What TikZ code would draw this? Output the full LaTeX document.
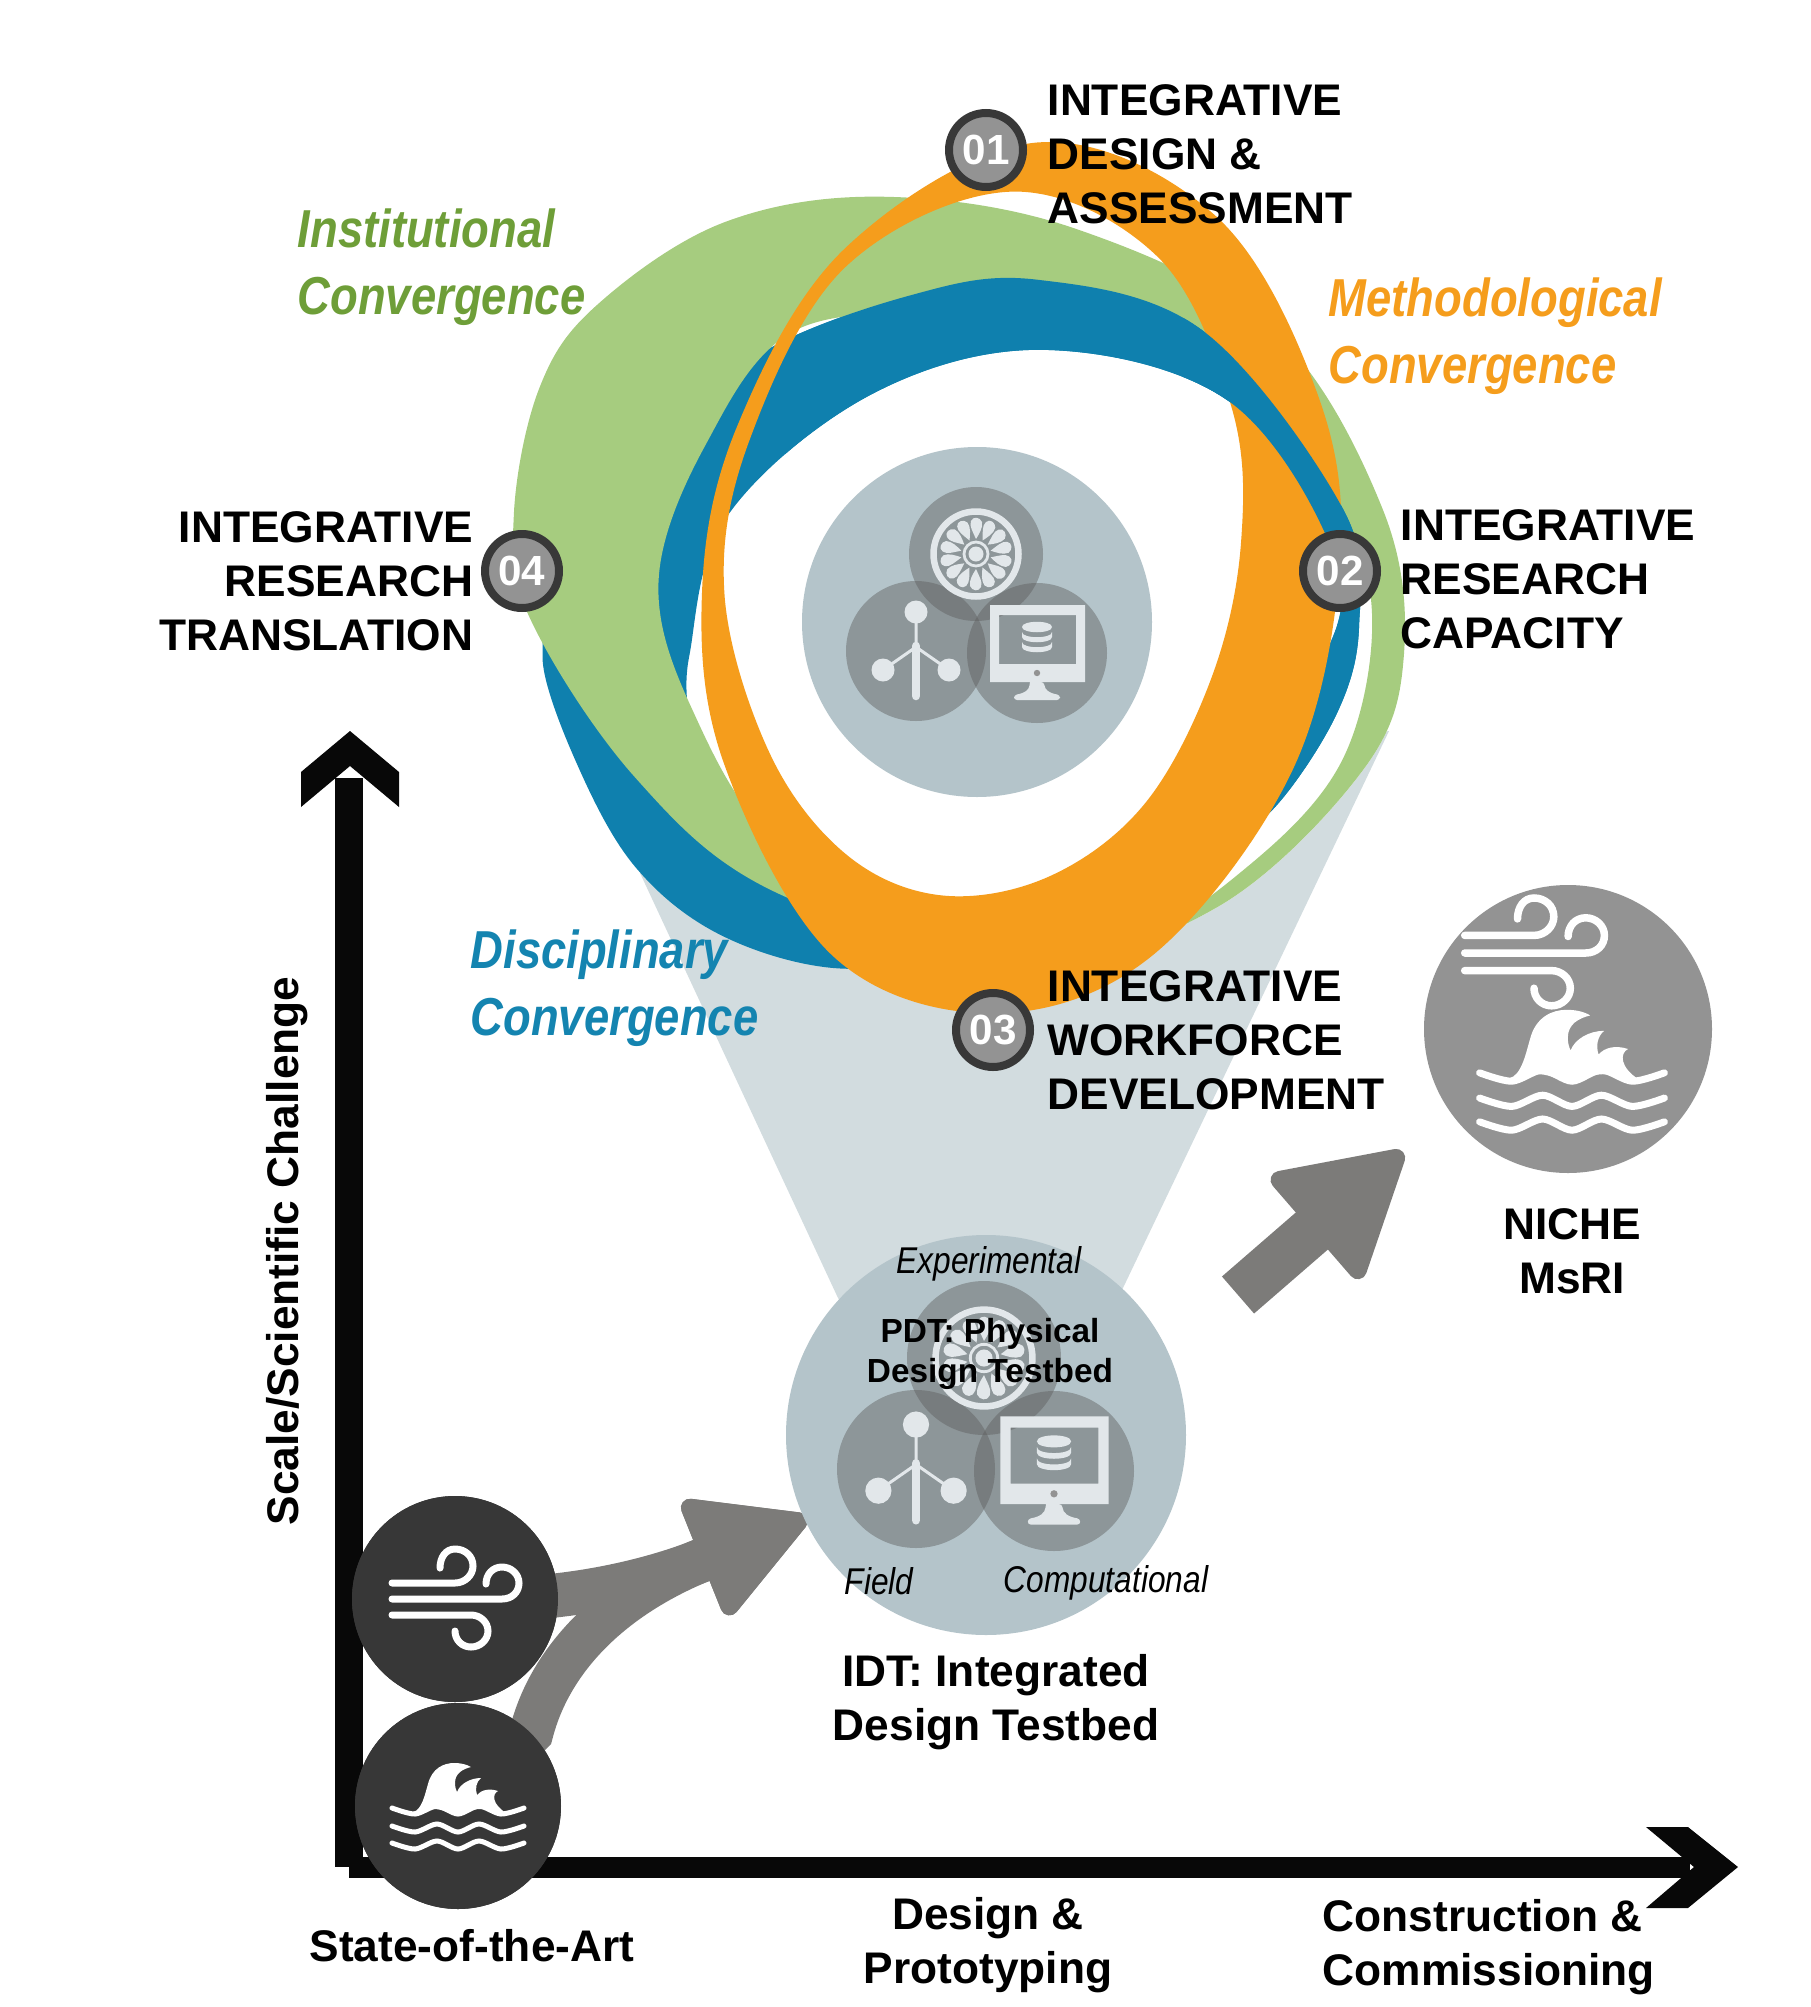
\documentclass[tikz,border=0pt]{standalone}
\usepackage{fontspec}
\usepackage{tikz}
\usetikzlibrary{arrows.meta,positioning}
\setmainfont{Liberation Sans}
\newfontfamily\slimfont[FakeStretch=0.85]{Liberation Sans}

\definecolor{ringgreen}{HTML}{A6CC7F}
\definecolor{ringblue}{HTML}{0F80AE}
\definecolor{ringorange}{HTML}{F59D1C}
\definecolor{textgreen}{HTML}{6E9E38}
\definecolor{textblue}{HTML}{1484B0}
\definecolor{funnelgray}{HTML}{D2DCDF}
\definecolor{discgray}{HTML}{B4C4CA}
\definecolor{flowgray}{HTML}{7C7B79}
\definecolor{nichegray}{HTML}{939393}
\definecolor{darkdisc}{HTML}{373737}
\definecolor{iconpale}{HTML}{E2E7EA}

% ring outlines, traced in a 1000 unit square
\newcommand{\greenouter}{plot[smooth cycle, tension=.6] coordinates {(680,230) (980,280) (1290,440) (1462,720) (1495,950) (1430,1130) (1200,1345) (900,1430) (510,1320) (290,1140) (125,890) (100,730) (140,530) (230,400) (430,270)}}
\newcommand{\greeninner}{plot[smooth cycle, tension=.6] coordinates {(800,410) (540,440) (400,620) (327,830) (378,1030) (520,1250) (800,1390) (1050,1400) (1250,1280) (1400,1110) (1445,880) (1380,700) (1200,500) (1000,420)}}
\newcommand{\bluearch}{plot[smooth cycle, tension=.6] coordinates {(330,1120) (290,850) (360,620) (480,480) (720,385) (920,360) (1180,440) (1400,720) (1425,900) (1390,1040) (1290,1190) (1200,1240) (1230,1100) (1370,950) (1385,790) (1220,550) (930,470) (660,540) (435,730) (375,950) (370,1060)}}
\newcommand{\bluelow}{plot[smooth cycle, tension=.6] coordinates {(145,950) (195,1110) (290,1280) (430,1390) (620,1440) (800,1400) (500,1250) (200,900)}}
\newcommand{\orangeouter}{plot[smooth cycle, tension=.6] coordinates {(920,145) (1200,260) (1360,540) (1395,800) (1320,1130) (1100,1420) (850,1510) (600,1420) (430,1120) (395,850) (450,590) (620,310)}}
\newcommand{\orangeinner}{plot[smooth cycle, tension=.6] coordinates {(880,222) (1110,325) (1225,560) (1240,770) (1195,980) (1090,1180) (940,1295) (770,1325) (620,1260) (500,1100) (430,850) (470,610) (620,340)}}

\tikzset{
    pics/fanicon/.style={code={
        \draw[iconpale, line width=.65mm] (0,0) circle (42.5);
        \draw[iconpale, line width=.28mm] (0,0) circle (12);
        \fill[iconpale] (0,0) circle (7.5);
        \foreach \blade in {0,...,13} {
            \begin{scope}[rotate=\blade*25.71]
                \fill[iconpale] (0,-15) .. controls (-3,-22) and (-7,-28) .. (-5,-33) .. controls (-3,-38) and (4,-37) .. (6,-32) .. controls (7,-26) and (3,-20) .. (0,-15) -- cycle;
            \end{scope}
        }
    }},
    pics/treeicon/.style={code={
        \fill[iconpale] (0,-39) circle (11.5) (-33,19) circle (11.5) (33,19) circle (11.5);
        \draw[iconpale, line width=.3mm] (0,-39) -- (0,0) (-33,19) -- (0,-4) -- (33,19);
        \draw[iconpale, line width=.85mm, line cap=round] (0,-5) -- (0,45);
    }},
    pics/monitoricon/.style={code={
        \fill[iconpale, even odd rule] (-47,-48) rectangle (48,29) (-38,-38) rectangle (39,11);
        \fill[iconpale] (-15,-26) .. controls (-15,-33) and (15,-33) .. (15,-26) .. controls (15,-19) and (-15,-19) .. (-15,-26) -- cycle;
        \foreach \band in {0,10} {
            \fill[iconpale, yshift=-\band*0.1mm] (-15,-21) .. controls (-15,-14) and (15,-14) .. (15,-21) -- (15,-16) .. controls (15,-9) and (-15,-9) .. (-15,-16) -- cycle;
        }
        \fill[nichegray] (0,20) circle (3.2);
        \fill[iconpale, rounded corners=.3mm] (-7,29) -- (7,29) .. controls (8,37) and (12,40) .. (23,42) -- (23,47) -- (-23,47) -- (-23,42) .. controls (-12,40) and (-8,37) .. (-7,29) -- cycle;
    }},
    pics/windicon/.style={code={
        \draw[white, line width=#1, line cap=round] (-63,-16) -- (0,-16) .. controls (10,-16) and (18,-24) .. (18,-33) .. controls (18,-43) and (10,-50) .. (0,-50) .. controls (-9,-50) and (-15,-42) .. (-15,-31);
        \draw[white, line width=#1, line cap=round] (-63,0) -- (47,0) .. controls (57,0) and (64,-7) .. (64,-16) .. controls (64,-25) and (56,-32) .. (47,-32) .. controls (38,-32) and (31,-25) .. (31,-15);
        \draw[white, line width=#1, line cap=round] (-63,16) -- (16,16) .. controls (25,16) and (33,23) .. (33,32) .. controls (33,41) and (25,48) .. (16,48) .. controls (7,48) and (0,41) .. (0,32);
    }},
    pics/waveicon/.style={code={
        \fill[white] (-45,6) .. controls (-36,4) and (-33,-12) .. (-30,-22) .. controls (-26,-38) and (-14,-43) .. (-4,-43) .. controls (2,-43) and (8,-42) .. (13,-39) .. controls (5,-37) and (-3,-33) .. (-3,-23) .. controls (-3,-19) and (-2,-16) .. (-1,-14) .. controls (2,-22) and (12,-28) .. (23,-28) .. controls (18,-24) and (17,-17) .. (19,-11) .. controls (23,-16) and (31,-18) .. (40,-15) .. controls (34,-12) and (34,-2) .. (48,7) .. controls (38,9) and (32,3) .. (22,3) .. controls (12,3) and (8,9) .. (0,9) .. controls (-8,9) and (-14,3) .. (-24,3) .. controls (-30,3) and (-37,9) .. (-45,6) -- cycle;
        \foreach \lvl in {4,22,39} {
            \draw[white, line width=#1, line cap=round] plot[smooth] coordinates {(-66,\lvl-2) (-43,\lvl+4) (-21,\lvl-4) (0,\lvl+4) (21,\lvl-4) (43,\lvl+4) (66,\lvl-2)};
        }
    }}
}

\begin{document}
\begin{tikzpicture}[
    x=0.1mm, y=-0.1mm,
    badge/.style={circle, draw=black!78, line width=.8mm, fill=nichegray, minimum size=7.4mm, inner sep=0pt, text=white, font=\fontsize{12}{14}\selectfont\bfseries},
    heading/.style={inner sep=0pt, font=\fontsize{12.6}{15.3}\selectfont\bfseries},
    smallhead/.style={inner sep=0pt, align=center, font=\fontsize{9.5}{11.3}\selectfont\bfseries},
    mode/.style={inner sep=0pt, font=\fontsize{10.6}{12}\selectfont\slimfont\itshape},
    strand/.style={inner sep=0pt, align=left, font=\fontsize{15.2}{19}\selectfont\slimfont\bfseries\itshape},
    disc/.style={circle, fill=discgray, inner sep=0pt},
    subdisc/.style={circle, fill=black!63, fill opacity=.45, inner sep=0pt},
    darkcirc/.style={circle, fill=darkdisc, minimum size=20.6mm, inner sep=0pt},
    axisstem/.style={black!97, line cap=square},
    axishead/.style={fill=black!97},
    flowstem/.style={flowgray, line width=4.4mm, -{Triangle[quick, round, length=12.4mm, width=13.2mm, line width=1.8mm]}},
    bigflow/.style={flowgray, line width=4.9mm, -{Triangle[quick, round, length=13mm, width=14.6mm, line width=1.8mm]}}
]
    \useasboundingbox (0,0) rectangle (1810,2007);

    % Funnel behind the rings
    \fill[funnelgray] (640,873) -- (838,1298) -- (880,1340) -- (1090,1340) -- (1123,1288) -- (1389,731) -- cycle;

    % Rings
    \begin{scope}[shift={(450,50)}, scale=0.638]
        \fill[white] \greenouter;
        \fill[ringblue] \bluelow;
        \fill[ringblue, even odd rule] \bluearch;
        \fill[ringgreen, even odd rule] \greenouter \greeninner;
        \begin{scope}
            \clip (525,200) rectangle (1600,1300);
            \fill[ringblue] \bluearch;
        \end{scope}
        \fill[ringorange, even odd rule] \orangeouter \orangeinner;
        \begin{scope}
            \clip (1150,300) rectangle (1600,800);
            \fill[ringblue] \bluearch;
        \end{scope}
    \end{scope}

    % Centre of the rings
    \node[disc, minimum size=35mm] (hubdisc) at (977,622) {};
    \node[subdisc, minimum size=13.4mm] (hubexp) at (976,554) {};
    \node[subdisc, minimum size=14mm] (hubfield) at (916,651) {};
    \node[subdisc, minimum size=14mm] (hubcomp) at (1037,653) {};
    \pic at (hubexp) {fanicon};
    \pic at (hubfield) {treeicon};
    \pic at (hubcomp) {monitoricon};

    % Badges and their labels
    \node[badge] (badge01) at (986,150) {01};
    \node[badge] (badge02) at (1340,571) {02};
    \node[badge] (badge03) at (993,1030) {03};
    \node[badge] (badge04) at (522,571) {04};
    \node[heading, align=left, right=2mm of badge01, yshift=-.4mm] (design) {INTEGRATIVE\\DESIGN \&\\ASSESSMENT};
    \node[heading, align=left, right=1.9mm of badge02, yshift=-.8mm] (capacity) {INTEGRATIVE\\RESEARCH\\CAPACITY};
    \node[heading, align=left, right=1.3mm of badge03, yshift=-1mm] (workforce) {INTEGRATIVE\\WORKFORCE\\DEVELOPMENT};
    \node[heading, align=right, left=.7mm of badge04, yshift=-1mm] (translation) {INTEGRATIVE\\RESEARCH\\TRANSLATION};

    % Convergence labels
    \node[strand, text=textgreen, anchor=west] (institutional) at (297,267) {Institutional\\Convergence};
    \node[strand, text=ringorange, anchor=west] (methodological) at (1328,336) {Methodological\\Convergence};
    \node[strand, text=textblue, anchor=west] (disciplinary) at (470,988) {Disciplinary\\Convergence};

    % Axes
    \coordinate (ytop) at (350,731);
    \coordinate (xtip) at (1738,1867);
    \coordinate (origin) at (349,1867);
    \coordinate (ystem) at (349,778);
    \coordinate (xstem) at (1690,1867);
    \draw[axisstem, line width=2.8mm] (ystem) -- (origin);
    \draw[axisstem, line width=2.1mm] (origin) -- (xstem);
    \fill[axishead] (ytop) -- ++(49,41) -- ++(0,35) -- ++(-49,-41) -- ++(-49,41) -- ++(0,-35) -- cycle;
    \fill[axishead] (xtip) -- ++(-50,-40) -- ++(-42,0) -- ++(48,40) -- ++(-48,41) -- ++(42,0) -- cycle;
    \node[heading, rotate=90] (yaxis) at (287,1251) {Scale/Scientific Challenge};

    % Flows from the state of the art
    \node[darkcirc] (windcirc) at (455,1599) {};
    \node[darkcirc] (wavecirc) at (458,1806) {};
    \coordinate (idtmouth) at (807,1518);
    \draw[flowstem] (windcirc.center) .. controls (600,1605) and (700,1561) .. (idtmouth);
    \draw[flowstem] (wavecirc.center) -- (wavecirc.45) .. controls (550,1660) and (610,1597) .. (idtmouth);
    \node[darkcirc] at (windcirc) {};
    \node[darkcirc] at (wavecirc) {};
    \pic at (windcirc) {windicon=.7mm};
    \pic at (wavecirc) {waveicon=.5mm};

    % Testbed
    \node[disc, minimum size=40mm] (idtdisc) at (986,1435) {};
    \node[subdisc, minimum size=15.4mm] (idtexp) at (984,1358) {};
    \node[subdisc, minimum size=15.8mm] (idtfield) at (916,1469) {};
    \node[subdisc, minimum size=16mm] (idtcomp) at (1054,1471) {};
    \pic[scale=1.14] at (idtexp) {fanicon};
    \pic[scale=1.14] at (idtfield) {treeicon};
    \pic[scale=1.14] at (idtcomp) {monitoricon};
    \node[mode] (experimental) at (989,1264) {Experimental};
    \node[mode] (field) at (879,1581) {Field};
    \node[mode] (computational) at (1106,1583) {Computational};
    \node[smallhead] (pdt) at (990,1354) {PDT: Physical\\Design Testbed};
    \node[heading, align=center] (idt) at (996,1702) {IDT: Integrated\\Design Testbed};

    % NICHE
    \coordinate (nichefoot) at (1238,1295);
    \coordinate (nichetip) at (1403,1152);
    \draw[bigflow] (nichefoot) -- (nichetip);
    \node[circle, fill=nichegray, minimum size=28.8mm, inner sep=0pt] (nichedisc) at (1568,1029) {};
    \pic[scale=1.1] at (1534,953) {windicon=.75mm};
    \pic[scale=1.4] at (1572,1070) {waveicon=.7mm};
    \node[heading, align=center] (niche) at (1572,1251) {NICHE\\MsRI};

    % Stages along the axis
    \node[heading] (stateart) at (472,1946) {State-of-the-Art};
    \node[heading, align=center] (prototyping) at (988,1945) {Design \&\\Prototyping};
    \node[heading, align=left, anchor=west] (construction) at (1322,1947) {Construction \&\\Commissioning};
\end{tikzpicture}
\end{document}
